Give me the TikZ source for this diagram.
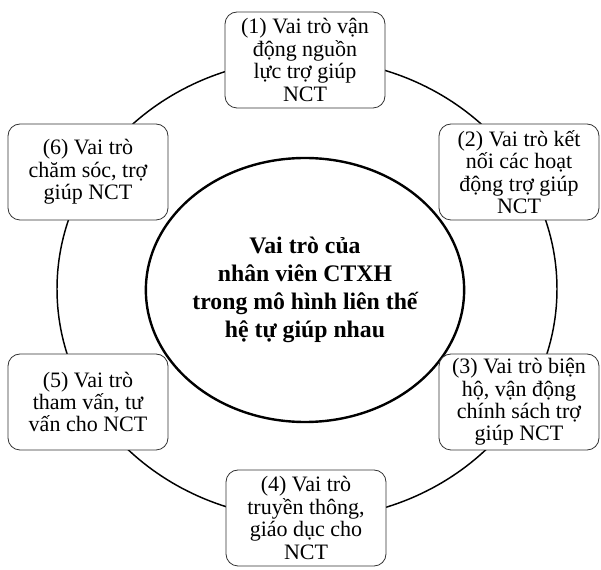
\documentclass[tikz,border=0pt]{standalone}
\usepackage{fontspec}
\setmainfont{Liberation Serif}
\usetikzlibrary{positioning,shapes.geometric}

\begin{document}
\begin{tikzpicture}[x=0.75pt, y=-0.75pt,
    role/.style={draw=black!80, fill=white, rounded corners=9pt, line width=0.6pt,
        minimum width=120pt, minimum height=72pt, align=center, inner sep=2pt,
        font=\fontsize{16.5}{16.8}\selectfont},
    hub/.style={ellipse, draw, line width=1.8pt, fill=white, minimum width=228pt,
        minimum height=198pt, align=center, inner sep=0pt,
        font=\fontsize{17.8}{21}\selectfont\bfseries}]
    \useasboundingbox (0,0) rectangle (601,570);
    % Outer ring behind the boxes
    \coordinate (ringc) at (307,289);
    \draw[line width=1.1pt] (ringc) ellipse [x radius=187.5pt, y radius=172.5pt];
    % Centre
    \node[hub] (core) at (305,290) {Vai trò của\\nhân viên CTXH\\trong mô hình liên thế\\hệ tự giúp nhau};
    % Six roles
    \foreach \n/\x/\y/\txt in {
        1/305/60/{(1) Vai trò vận\\động nguồn\\lực trợ giúp\\NCT},
        2/519/172/{(2) Vai trò kết\\nối các hoạt\\động trợ giúp\\NCT},
        3/519/402/{(3) Vai trò biện\\hộ, vận động\\chính sách trợ\\giúp NCT},
        4/306/518/{(4) Vai trò\\truyền thông,\\giáo dục cho\\NCT},
        5/88/402/{(5) Vai trò\\tham vấn, tư\\vấn cho NCT},
        6/88/172/{(6) Vai trò\\chăm sóc, trợ\\giúp NCT}} {
        \node[role] (role\n) at (\x,\y) {\txt};
    }
\end{tikzpicture}
\end{document}
